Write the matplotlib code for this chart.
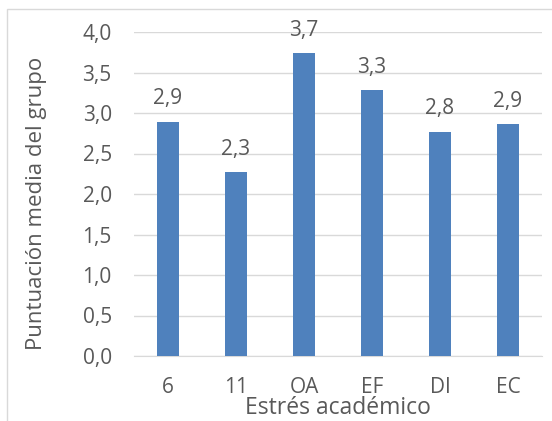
import matplotlib.pyplot as plt
from matplotlib.patches import Rectangle
from matplotlib.ticker import FuncFormatter

categorias = ["6", "11", "OA", "EF", "DI", "EC"]
medias = [2.89, 2.27, 3.74, 3.28, 2.77, 2.86]
ticks_y = [0.0, 0.5, 1.0, 1.5, 2.0, 2.5, 3.0, 3.5, 4.0]

barColor = "#4f81bd"
gridColor = "#d9d9d9"
textColor = "#595959"

plt.rcParams['font.family'] = ['Open Sans', 'DejaVu Sans']

fig = plt.figure(figsize=(5.52, 4.21), dpi=100, facecolor='w')
ax = fig.add_axes([134 / 552, 1 - 356 / 421, 408 / 552, 324 / 421])

x = range(len(categorias))
bars = ax.bar(x, medias, width=0.31, color=barColor, zorder=3)

# etiquetas de datos con coma decimal
for b, v in zip(bars, medias):
    ax.annotate(f"{v:.1f}".replace('.', ','), (b.get_x() + b.get_width() / 2, v),
                xytext=(0, 9), textcoords='offset points',
                ha='center', va='bottom', fontsize=15, color=textColor)

ax.set_xlim(-0.5, len(categorias) - 0.5)
ax.set_ylim(0, 4.0)
ax.set_yticks(ticks_y)
ax.yaxis.set_major_formatter(FuncFormatter(lambda v, p: f"{v:.1f}".replace('.', ',')))
ax.set_xticks(list(x))
ax.set_xticklabels(categorias)
ax.tick_params(axis='both', length=0, labelsize=15, colors=textColor)
ax.tick_params(axis='x', pad=15)
ax.tick_params(axis='y', pad=16)
ax.grid(axis='y', color=gridColor, lw=1, zorder=0)
for s in ('top', 'right', 'left'):
    ax.spines[s].set_visible(False)
ax.spines['bottom'].set_color(gridColor)

ax.set_xlabel('Estrés académico', fontsize=16.5, color=textColor)
ax.set_ylabel('Puntuación media del grupo', fontsize=16, color=textColor)
ax.xaxis.set_label_coords(0.5, -0.125)
ax.yaxis.set_label_coords(-0.213, 0.47)

# marco exterior del gráfico
fig.patches.append(Rectangle((7 / 552, -0.1), 1.2, 1.1 - 9 / 421, transform=fig.transFigure,
                             fill=False, ec=gridColor, lw=1))

fig.savefig('out.png', dpi=100)
